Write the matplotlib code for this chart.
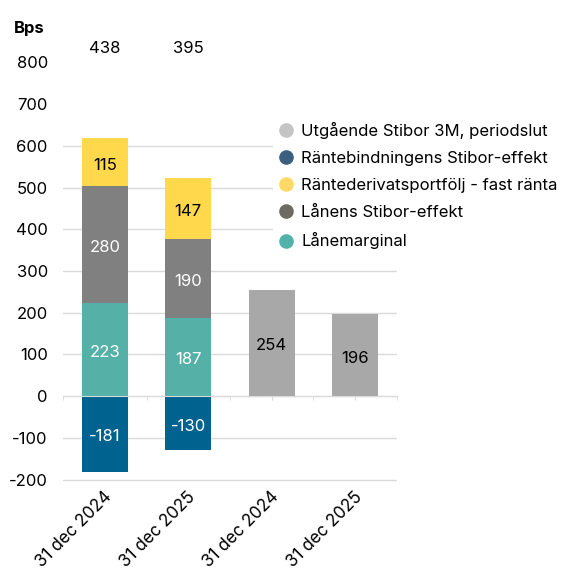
import matplotlib
matplotlib.use("Agg")
import matplotlib.pyplot as plt
from matplotlib.lines import Line2D
from matplotlib.transforms import blended_transform_factory

plt.rcParams["font.family"] = ["Inter", "DejaVu Sans"]

# ── Data ──────────────────────────────────────────────────────────────────────
categories = ["31 dec 2024", "31 dec 2025", "31 dec 2024", "31 dec 2025"]

lanemarginal = [223, 187]          # stacked bars, first two categories
lanens_stibor = [280, 190]
rantederivat = [115, 147]
rantebindning = [-181, -130]       # negative, drawn below zero
stibor_3m = [254, 196]             # stand-alone bars, last two categories
totals = [438, 395]

legend_labels = [
    "Utgående Stibor 3M, periodslut",
    "Räntebindningens Stibor-effekt",
    "Räntederivatsportfölj - fast ränta",
    "Lånens Stibor-effekt",
    "Lånemarginal",
]

yticks = [-200, -100, 0, 100, 200, 300, 400, 500, 600, 700, 800]

COLORS = {
    "teal": "#55b0a7",
    "gray": "#808080",
    "yellow": "#ffd84c",
    "blue": "#00628f",
    "lightgray": "#a8a8a8",
    "grid": "#dadada",
}
LEGEND_COLORS = ["#c4c4c4", "#3c5f80", "#ffd966", "#6d6a64", "#52b2aa"]

BAR_W = 0.55
FS = 12

fig = plt.figure(figsize=(5.63, 5.70), dpi=100)
ax = fig.add_axes([0.112, 0.155, 0.593, 0.794])

# ── Bars ──────────────────────────────────────────────────────────────────────
x_stack = [0, 1]
x_single = [2, 3]

b_teal = ax.bar(x_stack, lanemarginal, BAR_W, color=COLORS["teal"], zorder=3)
b_gray = ax.bar(x_stack, lanens_stibor, BAR_W, bottom=lanemarginal,
                color=COLORS["gray"], zorder=3)
base_y = [a + b for a, b in zip(lanemarginal, lanens_stibor)]
b_yel = ax.bar(x_stack, rantederivat, BAR_W, bottom=base_y,
               color=COLORS["yellow"], zorder=3)
b_blue = ax.bar(x_stack, rantebindning, BAR_W, color=COLORS["blue"], zorder=3)
b_single = ax.bar(x_single, stibor_3m, BAR_W, color=COLORS["lightgray"], zorder=3)

for bars, txt_color in [(b_teal, "white"), (b_gray, "white"), (b_yel, "black"),
                        (b_blue, "white"), (b_single, "black")]:
    anns = ax.bar_label(bars, labels=[f"{v:.0f}" for v in bars.datavalues],
                        label_type="center", color=txt_color, fontsize=FS)
    for a in anns:
        a.xyann = (0, -2)

for xi, t in zip(x_stack, totals):
    ax.text(xi, 834, f"{t}", ha="center", va="center", fontsize=FS, color="black")

# ── Axes styling ──────────────────────────────────────────────────────────────
ax.set_xlim(-0.5, 3.5)
ax.set_ylim(-205, 880)
ax.set_yticks(yticks)
ax.set_yticklabels([str(v) for v in yticks], fontsize=FS)
ax.tick_params(axis="y", length=0, pad=11)

ax.yaxis.grid(True, color=COLORS["grid"], lw=1, zorder=0)
for gl, t in zip(ax.get_ygridlines(), yticks):
    if t > 600:
        gl.set_visible(False)

for side in ["top", "right", "left"]:
    ax.spines[side].set_visible(False)
ax.spines["bottom"].set_position(("data", 0))
ax.spines["bottom"].set_color(COLORS["grid"])
ax.spines["bottom"].set_zorder(4)

ax.set_xticks(range(len(categories)))
ax.set_xticks([-0.5, 0.5, 1.5, 2.5, 3.5], minor=True)
ax.tick_params(axis="x", which="both", length=3, color=COLORS["grid"],
               labelbottom=False)

trans = blended_transform_factory(ax.transData, ax.transAxes)
for xi, lab in enumerate(categories):
    ax.text(xi + 0.05, -0.028, lab, transform=trans, rotation=45,
            ha="right", va="center", rotation_mode="anchor", fontsize=FS + 0.3)

fig.text(0.025, 1 - 28 / 570, "Bps", fontsize=FS, fontweight="bold",
         ha="left", va="center")

# ── Legend ────────────────────────────────────────────────────────────────────
handles = [Line2D([], [], marker="o", ls="", markersize=9.5, color=c)
           for c in LEGEND_COLORS]
fig.legend(handles, legend_labels, loc="upper left",
           bbox_to_anchor=(0.47, 1 - 110 / 570), frameon=True, facecolor="white",
           edgecolor="none", framealpha=1, fontsize=FS, handletextpad=0.3,
           labelspacing=0.73, handlelength=1.2, borderpad=0.2)

fig.savefig("out.png", dpi=100, facecolor="white")
